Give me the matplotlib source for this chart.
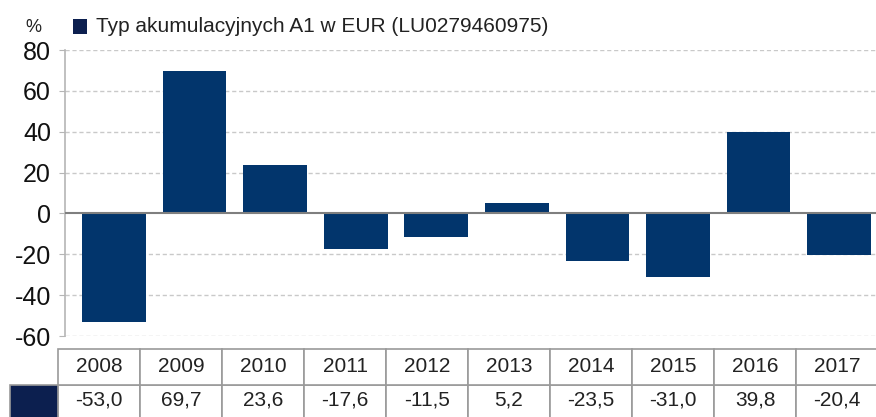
import matplotlib.pyplot as plt
from matplotlib.patches import Rectangle

years = ['2008', '2009', '2010', '2011', '2012',
         '2013', '2014', '2015', '2016', '2017']
returns = [-53.0, 69.7, 23.6, -17.6, -11.5, 5.2, -23.5, -31.0, 39.8, -20.4]
y_ticks = [80, 60, 40, 20, 0, -20, -40, -60]
series_name = 'Typ akumulacyjnych A1 w EUR (LU0279460975)'

BAR_COLOR = '#02356c'
DARK_NAVY = '#0c1f4f'
GRID_COLOR = '#c9c9c9'
LINE_COLOR = '#9a9a9a'


def fmt_pl(v):
    '''
    Polish decimal format: comma as separator
    '''
    return f'{v:.1f}'.replace('.', ',')


def main():
    plt.rcParams['font.family'] = ['Liberation Sans', 'DejaVu Sans']

    W, H = 876, 417
    fig = plt.figure(figsize=(W / 100, H / 100), dpi=100)

    # main bar chart
    ax = fig.add_axes([65 / W, (H - 336) / H, 811 / W, 286 / H])
    x = list(range(len(years)))
    ax.bar(x, returns, width=0.79, color=BAR_COLOR, zorder=3)
    ax.set_xlim(-0.61, 9.46)
    ax.set_ylim(-60, 80)
    ax.set_yticks(y_ticks)
    ax.set_yticklabels([str(t) for t in y_ticks])
    ax.set_xticks([])
    for t in y_ticks:
        if t != 0:
            ax.axhline(t, color=GRID_COLOR, linestyle=(0, (3, 2)),
                       linewidth=1, zorder=1)
    ax.axhline(0, color='#7f7f7f', linewidth=1.5, zorder=4)
    for side in ['top', 'right', 'bottom']:
        ax.spines[side].set_visible(False)
    ax.spines['left'].set_color('#b5b5b5')
    ax.spines['left'].set_linewidth(1.2)
    ax.tick_params(axis='y', length=4, color='#b5b5b5', labelsize=18,
                   pad=6, labelcolor='#111111')

    # header: unit and legend
    fig.text(25 / W, 1 - 27 / H, '%', fontsize=13, va='center',
             color='#222222')
    fig.patches.append(Rectangle((73 / W, 1 - 34 / H), 14 / W, 15 / H,
                                 transform=fig.transFigure,
                                 facecolor=DARK_NAVY, edgecolor='none'))
    fig.text(96 / W, 1 - 27 / H, series_name, fontsize=15, va='center',
             color='#222222')

    # data table below the chart
    tax = fig.add_axes([10 / W, (H - 420) / H, 868 / W, 71 / H])
    tax.set_xlim(-48 / 82, 10)
    tax.set_ylim(0, 2)
    tax.axis('off')
    for i, (yr, v) in enumerate(zip(years, returns)):
        for row in (0, 1):
            tax.add_patch(Rectangle((i, row), 1, 1, facecolor='white',
                                    edgecolor=LINE_COLOR, linewidth=1.2,
                                    clip_on=False))
        tax.text(i + 0.5, 1.5, yr, ha='center', va='center',
                 fontsize=15, color='#222222')
        tax.text(i + 0.5, 0.55, fmt_pl(v), ha='center', va='center',
                 fontsize=15, color='#222222')
    tax.add_patch(Rectangle((-48 / 82, 0), 48 / 82, 1, facecolor=DARK_NAVY,
                            edgecolor=LINE_COLOR, linewidth=1.2,
                            clip_on=False))

    fig.savefig('out.png', dpi=100)


if __name__ == "__main__":
    main()
